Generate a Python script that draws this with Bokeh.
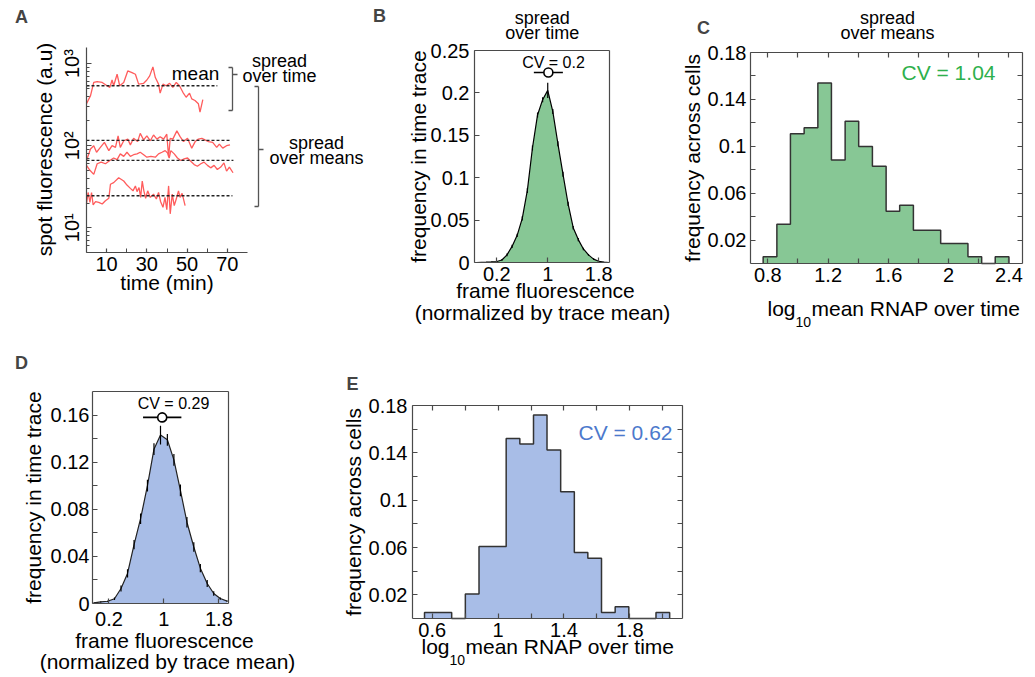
import json, math
from bokeh.plotting import figure
from bokeh.layouts import column, row
from bokeh.models import (Label, Arrow, FixedTicker, CustomJSTickFormatter, LinearAxis, LogAxis, Range1d)
from bokeh.embed import file_html
from bokeh.resources import INLINE

FONT = "Liberation Sans"
AX = "#4a4a4a"
GREEN_FILL = "#87c795"
GREEN_TEXT = "#2eb04c"
BLUE_FILL = "#a8bde7"
BLUE_TEXT = "#4c79cc"
RED = "#ff5c5c"

# ---------------- Panel A: single-cell traces (time in min, log10 spot fluorescence) -------------
traceA1_t = [0, 2.0, 3.6, 5.3, 7.8, 10.2, 11.6, 12.7, 13.5, 15.2, 16.5, 18.5, 20.5, 22.6, 24.3, 25.9, 28.4, 30.0, 31.4, 33.0,
             34.2, 35.8, 36.6, 38.0, 39.6, 41.3, 42.9, 44.6, 46.2, 47.9, 49.5, 51.2, 52.3, 53.9, 55.6, 56.4, 57.8]
traceA1_log10 = [2.51, 2.61, 2.77, 2.78, 2.77, 2.73, 2.71, 2.80, 2.73, 2.87, 2.73, 2.77, 2.91, 2.89, 2.87, 2.75, 2.76, 2.80, 2.85, 2.96,
                 2.83, 2.75, 2.64, 2.75, 2.73, 2.76, 2.71, 2.77, 2.73, 2.65, 2.59, 2.64, 2.57, 2.55, 2.51, 2.41, 2.56]
traceA2_t = [0, 2.0, 3.6, 5.0, 6.6, 8.9, 11.1, 12.7, 14.4, 15.7, 16.8, 18.5, 20.5, 21.8, 23.4, 25.4, 26.7, 28.4, 30.0, 31.7,
             33.3, 35.0, 36.6, 38.3, 39.9, 40.8, 41.6, 42.9, 44.9, 46.5, 48.2, 50.2, 52.3, 54.0, 55.6, 57.3, 58.9, 60.6, 62.7, 64.7,
             66.0, 67.7, 69.6, 71.3]
traceA2_log10 = [1.82, 1.96, 2.00, 1.92, 1.97, 2.04, 1.94, 2.00, 1.98, 2.12, 1.98, 2.06, 2.08, 2.01, 2.09, 2.05, 2.15, 2.07, 2.12, 2.06,
                 2.13, 2.08, 2.11, 2.08, 2.14, 1.86, 2.09, 2.08, 2.18, 2.11, 2.05, 2.09, 1.97, 2.05, 2.08, 2.09, 2.07, 2.05, 2.04, 1.98,
                 2.02, 1.97, 2.00, 2.01]
traceA3_t = [0, 1.7, 3.6, 5.3, 7.3, 9.4, 11.6, 13.5, 15.2, 16.8, 18.5, 20.1, 21.8, 23.4, 25.1, 26.7, 28.4, 30.0, 32.0, 34.2,
             35.8, 37.5, 39.1, 40.3, 41.1, 41.9, 43.6, 45.2, 46.9, 48.5, 50.2, 51.8, 53.5, 55.1, 56.8, 58.4, 60.1, 61.7, 63.4, 65.0,
             66.7, 68.3, 69.6, 71.0, 72.8]
traceA3_log10 = [1.76, 1.70, 1.65, 1.78, 1.80, 1.78, 1.82, 1.85, 1.83, 1.90, 1.87, 1.92, 1.87, 1.89, 1.90, 1.92, 1.89, 1.86, 1.87, 1.86,
                 1.90, 1.92, 1.94, 1.91, 1.85, 1.94, 1.90, 1.85, 1.82, 1.84, 1.85, 1.81, 1.77, 1.75, 1.78, 1.80, 1.76, 1.73, 1.76, 1.71,
                 1.74, 1.79, 1.69, 1.74, 1.67]
traceA4_t = [0, 0.8, 1.7, 2.5, 3.3, 4.5, 6.1, 7.8, 9.4, 11.1, 11.9, 13.5, 16.0, 18.5, 20.1, 21.8, 23.1, 24.3, 25.1, 26.1,
             26.9, 27.7, 28.5, 29.4, 30.4, 31.7, 33.3, 34.7, 35.8, 36.8, 38.0, 39.0, 39.9, 40.8, 41.6, 42.6, 43.6, 44.6, 45.7, 46.5,
             47.5, 49.0]
traceA4_log10 = [1.29, 1.43, 1.31, 1.43, 1.28, 1.32, 1.31, 1.29, 1.33, 1.36, 1.53, 1.55, 1.61, 1.57, 1.52, 1.48, 1.45, 1.51, 1.44, 1.49,
                 1.37, 1.57, 1.45, 1.36, 1.45, 1.37, 1.41, 1.35, 1.43, 1.32, 1.25, 1.37, 1.22, 1.51, 1.17, 1.41, 1.27, 1.35, 1.45, 1.37,
                 1.42, 1.27]
meanA_log10 = [2.73, 2.065, 1.82, 1.39]
meanA_end_t = [65.0, 71.5, 73.0, 72.5]
A_xlim = (0, 80)
A_ylim = (5, 1570)
A_xticks = [10, 30, 50, 70]
A_xminor = [20, 40, 60]
A_yticks = [10, 100, 1000]
A_yticklabels = ["10\u00b9", "10\u00b2", "10\u00b3"]

# ---------------- Panel B: within-trace distribution (green) ----------------
histB_x = [-0.12, -0.04, 0.04, 0.12, 0.2, 0.28, 0.36, 0.44, 0.52, 0.6, 0.68, 0.76, 0.84, 0.92, 1.0, 1.08, 1.16, 1.24,
           1.32, 1.4, 1.48, 1.56, 1.64, 1.72, 1.8, 1.88, 1.96]
histB_freq = [0.0, 0.0003, 0.0005, 0.0008, 0.0012, 0.003, 0.009, 0.019, 0.032, 0.052, 0.085, 0.135, 0.174, 0.192, 0.203,
              0.178, 0.140, 0.104, 0.069, 0.041, 0.027, 0.016, 0.009, 0.004, 0.0015, 0.0005, 0.0]
histB_err = [0.0, 0.0003, 0.0003, 0.0004, 0.0005, 0.001, 0.0015, 0.002, 0.002, 0.0025, 0.003, 0.003, 0.003, 0.003, 0.009,
             0.003, 0.003, 0.003, 0.0025, 0.002, 0.002, 0.0015, 0.001, 0.001, 0.0008, 0.0005, 0.0]
B_xlim, B_ylim = (-0.15, 1.97), (0, 0.25)
cvB_text = "CV = 0.2"
cvB_mean, cvB_half, cvB_y = 1.01, 0.228, 0.224

# ---------------- Panel C: across-cell distribution (green) ----------------
histC_edges = [0.769, 0.860, 0.950, 1.041, 1.132, 1.222, 1.313, 1.403, 1.494, 1.585, 1.675, 1.766, 1.857, 1.947,
               2.038, 2.128, 2.219, 2.309, 2.400]
histC_freq = [0.0057, 0.0334, 0.1106, 0.1157, 0.154, 0.0884, 0.1213, 0.0998, 0.083, 0.0445, 0.0496, 0.0283, 0.0283,
              0.017, 0.017, 0.0057, 0.0, 0.0057]
C_xlim, C_ylim = (0.685, 2.49), (0, 0.18)
cvC_text = "CV = 1.04"

# ---------------- Panel D: within-trace distribution (blue) ----------------
histD_x = [-0.02, 0.08, 0.18, 0.28, 0.375, 0.47, 0.565, 0.66, 0.76, 0.855, 0.95, 1.05, 1.145, 1.24, 1.335, 1.435,
           1.53, 1.63, 1.725, 1.82, 1.92]
histD_freq = [0.0006, 0.0013, 0.0019, 0.004, 0.0127, 0.0255, 0.050, 0.072, 0.100, 0.131, 0.143, 0.139, 0.122, 0.096,
              0.069, 0.048, 0.030, 0.017, 0.0085, 0.0042, 0.002]
histD_err = [0.0003, 0.0004, 0.0005, 0.001, 0.0025, 0.0035, 0.004, 0.0045, 0.005, 0.005, 0.008, 0.005, 0.005, 0.005,
             0.0045, 0.004, 0.0035, 0.003, 0.002, 0.001, 0.0005]
D_xlim, D_ylim = (-0.04, 1.94), (0, 0.18)
cvD_text = "CV = 0.29"
cvD_mean, cvD_half, cvD_y = 0.975, 0.279, 0.158

# ---------------- Panel E: across-cell distribution (blue) ----------------
histE_edges = [0.553, 0.636, 0.718, 0.801, 0.884, 0.967, 1.049, 1.132, 1.215, 1.297, 1.380, 1.463, 1.545, 1.628,
               1.711, 1.794, 1.876, 1.959, 2.042]
histE_freq = [0.0051, 0.0051, 0.0, 0.0207, 0.0609, 0.0609, 0.1522, 0.1474, 0.172, 0.1423, 0.1071, 0.0558, 0.051,
              0.0051, 0.0099, 0.0, 0.0, 0.0051]
E_xlim, E_ylim = (0.48, 2.12), (0, 0.18)
cvE_text = "CV = 0.62"


# ======================= helpers =======================
def fmt(shown):
    return CustomJSTickFormatter(code=(
        "const show = %s; for (const s of show) { if (Math.abs(s - tick) < 1e-9) "
        "{ return String(parseFloat(tick.toFixed(4))); } } return '';" % json.dumps(shown)))


def x_range_from(cl, cr, pl, pr, lim):
    d0, d1 = lim
    s = (pr - pl) / (d1 - d0)
    return Range1d(d0 - (pl - cl) / s, d1 + (cr - pr) / s)


def y_range_from(ct, cb, pt, pb, lim, log=False):
    d0, d1 = lim
    if log:
        d0, d1 = math.log10(d0), math.log10(d1)
    s = (pb - pt) / (d1 - d0)
    lo, hi = d0 - (cb - pb) / s, d1 + (pt - ct) / s
    return Range1d(10 ** lo, 10 ** hi) if log else Range1d(lo, hi)


class Panel:
    """A figure whose frame covers its whole canvas; axes sit at fixed data locations."""

    def __init__(self, cl, ct, w, h, box, xlim, ylim, log=False):
        self.cl, self.ct, self.cb = cl, ct, ct + h
        pl, pt, pr, pb = box
        self.p = figure(width=w, height=h, min_border=0, title=None,
                        x_range=x_range_from(cl, cl + w, pl, pr, xlim),
                        y_range=y_range_from(ct, ct + h, pt, pb, ylim, log),
                        y_axis_type="log" if log else "linear",
                        x_axis_location=None, y_axis_location=None,
                        output_backend="svg", toolbar_location=None, tools="")
        self.p.xgrid.visible = False
        self.p.ygrid.visible = False
        self.p.outline_line_color = None
        self.p.border_fill_color = "white"
        self.p.background_fill_color = "white"
        self.xlim, self.ylim, self.log = xlim, ylim, log

    def axis(self, side, ticks=(), shown=(), minor=(), standoff=4, tick_len=5, minor_len=3):
        vertical = side in ("left", "right")
        log = self.log and vertical
        cls = LogAxis if log else LinearAxis
        loc = {"left": self.xlim[0], "right": self.xlim[1], "below": self.ylim[0], "above": self.ylim[1]}[side]
        bounds = self.ylim if vertical else self.xlim
        ax = cls(fixed_location=loc, bounds=bounds)
        ax.ticker = FixedTicker(ticks=list(ticks), minor_ticks=list(minor))
        ax.formatter = fmt(list(shown))
        ax.major_tick_in, ax.major_tick_out = tick_len, 0
        ax.minor_tick_in, ax.minor_tick_out = minor_len, 0
        ax.axis_line_color = AX
        ax.axis_line_width = 1.2
        ax.major_tick_line_color = AX
        ax.major_tick_line_width = 1.2
        ax.minor_tick_line_color = AX
        ax.major_label_text_font = FONT
        ax.major_label_text_font_size = "20px" if shown else "1px"
        ax.major_label_text_color = "black"
        ax.major_label_standoff = standoff
        self.p.add_layout(ax, side)
        return ax

    def text(self, X, Y, text, size, color="black", bold=False, angle=0.0, align="center"):
        self.p.add_layout(Label(x=X - self.cl, y=self.cb - Y, x_units="screen", y_units="screen", text=text,
                                text_font=FONT, text_font_size="%spx" % size, text_color=color,
                                text_font_style="bold" if bold else "normal", angle=angle,
                                text_align=align, text_baseline="middle"))

    def ytick_text(self, X, yval, text, size, angle=0.0):
        # label placed at a data y value (through the panel's y scale), fixed screen x
        self.p.add_layout(Label(x=X - self.cl, y=yval, x_units="screen", y_units="data", text=text,
                                text_font=FONT, text_font_size="%spx" % size, text_color="black",
                                angle=angle, text_align="center", text_baseline="middle"))

    def seg(self, X0, Y0, X1, Y1, color="#555555", w=1.3):
        self.p.add_layout(Arrow(end=None, x_start=X0 - self.cl, y_start=self.cb - Y0,
                                x_end=X1 - self.cl, y_end=self.cb - Y1,
                                start_units="screen", end_units="screen", line_color=color, line_width=w))

    def log_label(self, X, Y, size=21):
        self.text(X, Y, "log", size, align="left")
        self.text(X + 28, Y + 13, "10", 14, align="left")
        self.text(X + 44, Y, "mean RNAP over time", size, align="left")


def step_path(edges, heights):
    xs, ys = [edges[0]], [0.0]
    for i, h in enumerate(heights):
        xs += [edges[i], edges[i + 1]]
        ys += [h, h]
    xs.append(edges[-1])
    ys.append(0.0)
    return xs, ys


# ======================= Panel A =======================
A = Panel(0, 0, 395, 330, (86, 47, 247, 252), A_xlim, A_ylim, log=True)
pA = A.p
A.axis("below", A_xticks, A_xticks, A_xminor, standoff=4, tick_len=4, minor_len=4)
A.axis("left", A_yticks, (), [m * d for d in (1, 10, 100) for m in range(2, 10) if 5 <= m * d <= 1570],
       standoff=5, tick_len=5, minor_len=3)
for yv, lab in zip(A_yticks, A_yticklabels):
    A.ytick_text(71, yv, lab, 20, angle=math.pi / 2)
for t, lg in [(traceA1_t, traceA1_log10), (traceA2_t, traceA2_log10),
              (traceA3_t, traceA3_log10), (traceA4_t, traceA4_log10)]:
    pA.line(t, [10 ** v for v in lg], line_color=RED, line_width=1.3)
for m, e in zip(meanA_log10, meanA_end_t):
    pA.line([0, e], [10 ** m, 10 ** m], line_color="#222222", line_width=1.3, line_dash="3 2")

A.text(21, 16, "A", 18, color="#444444", bold=True)
A.text(44, 149, "spot fluorescence (a.u)", 21, angle=math.pi / 2)
A.text(166.5, 282, "time (min)", 21)
A.text(195, 73, "mean", 19)
A.text(279, 60, "spread", 18)
A.text(279, 75, "over time", 18)
A.text(316, 142, "spread", 18)
A.text(316, 157, "over means", 18)
A.text(379, 15, "B", 18, color="#444444", bold=True)
A.seg(228, 67, 232, 67)
A.seg(232, 67, 232, 110)
A.seg(228, 110, 232, 110)
A.seg(232, 74, 237, 74)
A.seg(254, 86, 258, 86)
A.seg(258, 86, 258, 206)
A.seg(254, 206, 258, 206)
A.seg(258, 149, 263, 149)

# ======================= Panel B =======================
B = Panel(395, 0, 281, 330, (474, 50, 609, 262), B_xlim, B_ylim)
pB = B.p
B.axis("below", [0.2, 1, 1.8], [0.2, 1, 1.8], standoff=4)
B.axis("left", [0, 0.05, 0.1, 0.15, 0.2, 0.25], [0, 0.05, 0.1, 0.15, 0.2, 0.25], standoff=5)
B.axis("right")
B.axis("above")
pB.varea(x=histB_x, y1=0, y2=histB_freq, fill_color=GREEN_FILL)
pB.line(histB_x, histB_freq, line_color="black", line_width=1.2)
pB.segment(x0=histB_x, y0=[f - e for f, e in zip(histB_freq, histB_err)],
           x1=histB_x, y1=[f + e for f, e in zip(histB_freq, histB_err)], line_color="black", line_width=1.2)
pB.line([cvB_mean - cvB_half, cvB_mean + cvB_half], [cvB_y, cvB_y], line_color="black", line_width=1.6)
pB.scatter([cvB_mean], [cvB_y], size=9, marker="circle", fill_color="white", line_color="black", line_width=1.6)
B.text(541.7, 17, "spread", 18)
B.text(541.7, 32, "over time", 18)
B.text(418, 156, "frequency in time trace", 21, angle=math.pi / 2)
B.text(553, 62, cvB_text, 16)
B.text(545, 290, "frame fluorescence", 21)
B.text(542, 312, "(normalized by trace mean)", 21)

# ======================= Panel C =======================
C = Panel(676, 0, 359, 330, (750, 52, 1022, 263), C_xlim, C_ylim)
pC = C.p
c_xt = [0.8, 1.0, 1.2, 1.4, 1.6, 1.8, 2.0, 2.2, 2.4]
c_yt = [0.02, 0.04, 0.06, 0.08, 0.1, 0.12, 0.14, 0.16, 0.18]
C.axis("below", c_xt, [0.8, 1.2, 1.6, 2.0, 2.4], standoff=4)
C.axis("left", c_yt, [0.02, 0.06, 0.1, 0.14, 0.18], standoff=4)
C.axis("right", c_yt)
C.axis("above", c_xt)
cx, cy = step_path(histC_edges, histC_freq)
pC.patch(cx, cy, fill_color=GREEN_FILL, line_color=None)
pC.line(cx, cy, line_color="#333333", line_width=1.5)
C.text(703, 27, "C", 18, color="#444444", bold=True)
C.text(887, 17, "spread", 18)
C.text(887, 32, "over means", 18)
C.text(692, 157.5, "frequency across cells", 21, angle=math.pi / 2)
C.text(948, 72, cvC_text, 21, color=GREEN_TEXT)
C.log_label(767, 308)

# ======================= Panel D =======================
D = Panel(0, 330, 305, 345, (92, 391, 228, 603), D_xlim, D_ylim)
pD = D.p
D.axis("below", [0.2, 1, 1.8], [0.2, 1, 1.8], standoff=8)
D.axis("left", [0, 0.02, 0.04, 0.06, 0.08, 0.1, 0.12, 0.14, 0.16], [0, 0.04, 0.08, 0.12, 0.16], standoff=3)
D.axis("right")
D.axis("above")
pD.varea(x=histD_x, y1=0, y2=histD_freq, fill_color=BLUE_FILL)
pD.line(histD_x, histD_freq, line_color="#222222", line_width=1.2)
pD.segment(x0=histD_x, y0=[f - e for f, e in zip(histD_freq, histD_err)],
           x1=histD_x, y1=[f + e for f, e in zip(histD_freq, histD_err)], line_color="black", line_width=1.2)
pD.line([cvD_mean - cvD_half, cvD_mean + cvD_half], [cvD_y, cvD_y], line_color="black", line_width=1.6)
pD.scatter([cvD_mean], [cvD_y], size=9, marker="circle", fill_color="white", line_color="black", line_width=1.6)
D.text(21, 362, "D", 18, color="#444444", bold=True)
D.text(33, 497, "frequency in time trace", 21, angle=math.pi / 2)
D.text(173, 403, cvD_text, 16)
D.text(164, 640, "frame fluorescence", 21)
D.text(167, 661, "(normalized by trace mean)", 21)

# ======================= Panel E =======================
E = Panel(305, 330, 395, 345, (412, 405, 682, 618), E_xlim, E_ylim)
pE = E.p
e_xt = [0.6, 0.8, 1.0, 1.2, 1.4, 1.6, 1.8, 2.0]
E.axis("below", e_xt, [0.6, 1.0, 1.4, 1.8], standoff=4)
E.axis("left", c_yt, [0.02, 0.06, 0.1, 0.14, 0.18], standoff=5)
E.axis("right", c_yt)
E.axis("above", e_xt)
ex, ey = step_path(histE_edges, histE_freq)
pE.patch(ex, ey, fill_color=BLUE_FILL, line_color=None)
pE.line(ex, ey, line_color="#333333", line_width=1.5)
E.text(352, 383, "E", 18, color="#444444", bold=True)
E.text(353, 511.5, "frequency across cells", 21, angle=math.pi / 2)
E.text(625, 432, cvE_text, 21, color=BLUE_TEXT)
E.log_label(421, 646)

layout = column(row(pA, pB, pC), row(pD, pE))
open("out.html", "w", encoding="utf-8").write(file_html(layout, INLINE))
